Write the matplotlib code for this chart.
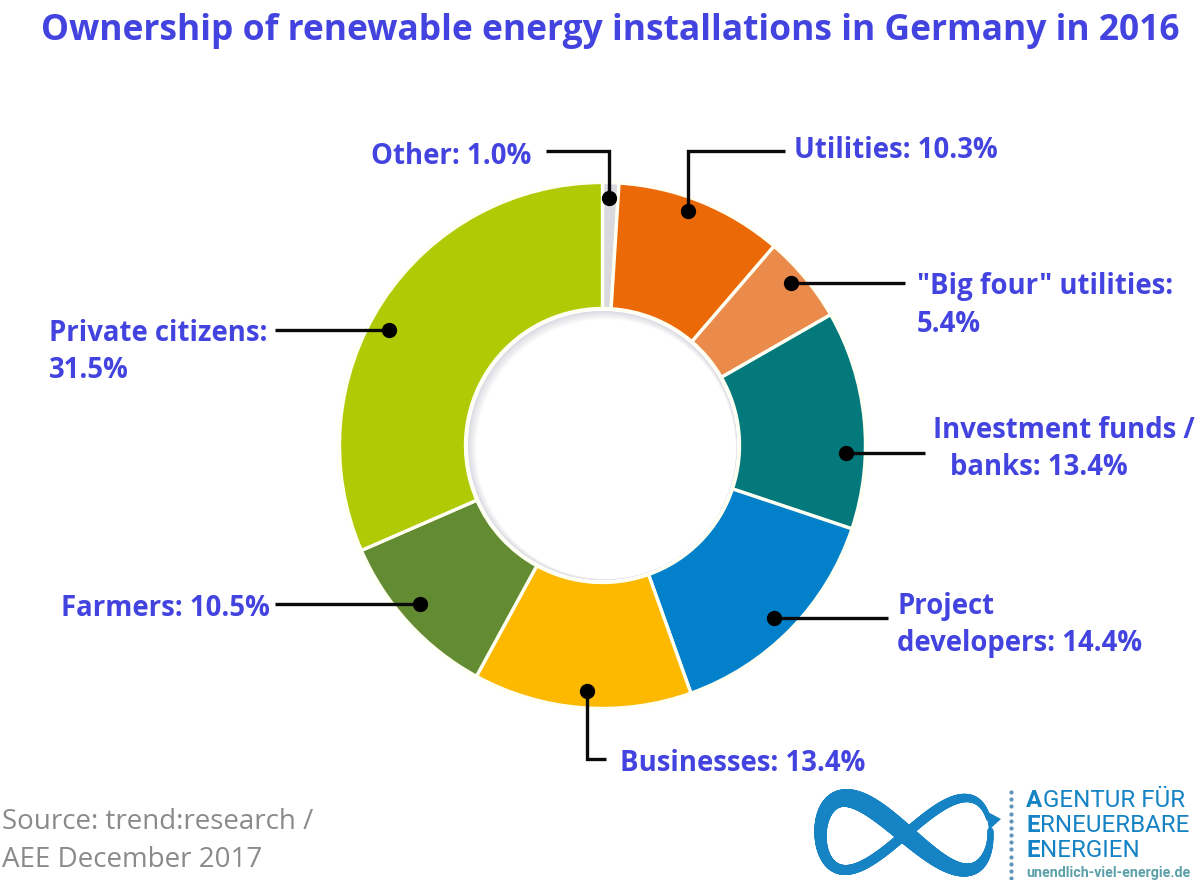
# Ownership of renewable energy installations, donut chart with leader lines
import numpy as np
import matplotlib
matplotlib.use('Agg')
import matplotlib.pyplot as plt
from matplotlib.patches import Circle, Polygon
from matplotlib.collections import LineCollection

W, H = 1200, 880

# --- data, clockwise from the top ---
categories = ['Other', 'Utilities', '"Big four" utilities', 'Investment funds / banks',
              'Project developers', 'Businesses', 'Farmers', 'Private citizens']
shares = [1.0, 10.3, 5.4, 13.4, 14.4, 13.4, 10.5, 31.5]
colors = ['#d9d9de', '#ec6907', '#ea8b4b', '#04797c', '#0281ca', '#fcb900', '#638c32', '#b0cb05']

# each text line with its left edge and vertical centre in image pixels
label_lines = [
    ('Other: 1.0%', 371, 156),
    ('Utilities: 10.3%', 794, 150),
    ('"Big four" utilities:', 917, 286),
    ('5.4%', 917, 324),
    ('Investment funds /', 933, 430),
    ('banks: 13.4%', 950, 467),
    ('Project', 897, 606),
    ('developers: 14.4%', 897, 643),
    ('Businesses: 13.4%', 620, 763),
    ('Farmers: 10.5%', 61, 608),
    ('Private citizens:', 49, 333),
    ('31.5%', 49, 370),
]

# leader lines in image pixels, first point is the dot on the ring
leaders = [
    [(609, 198), (609, 151), (546, 151)],
    [(688, 211), (688, 151), (785, 151)],
    [(791, 283), (905, 283)],
    [(846, 453), (925, 453)],
    [(774, 618), (888, 618)],
    [(587, 691), (587, 759), (606, 759)],
    [(420, 604), (275, 604)],
    [(389, 330), (275, 330)],
]

BLUE_TEXT = '#4343e0'
LOGO_BLUE = '#1583c4'


def fy(y):
    return H - y


fig = plt.figure(figsize=(12, 8.8), dpi=100, facecolor='white')
ax = fig.add_axes([0, 0, 1, 1])

# --- donut ---
cx, cy, r_out, r_in = 602.5, fy(445.5), 263, 137
ax.pie(shares, colors=colors, startangle=90, counterclock=False, center=(cx, cy),
       radius=r_out, frame=True,
       wedgeprops=dict(width=r_out - r_in, edgecolor='#fffff4', linewidth=2.4))
ax.set_xlim(0, W)
ax.set_ylim(0, H)
ax.set_aspect('auto')
ax.axis('off')

# soft shadow inside the hole, heavier on the upper left
ax.add_patch(Circle((cx, cy), r_in, fc='white', ec='#fffff0', lw=1.5, zorder=3))
steps = 30
for i in range(steps):
    f = i / (steps - 1)
    grey = np.array([0.86, 0.86, 0.89]) * (1 - f) + f
    ax.add_patch(Circle((cx + 3.5 * f, cy - 3.5 * f), 134.5 - 5 * f, fc=tuple(grey), ec='none', zorder=4))

# --- leaders ---
for pts in leaders:
    xs = [p[0] for p in pts]
    ys = [fy(p[1]) for p in pts]
    ax.plot(xs, ys, color='#0a0a0a', lw=2.4, solid_capstyle='butt', solid_joinstyle='miter', zorder=6)
    ax.plot(xs[0], ys[0], 'o', color='black', ms=10, zorder=7)

# --- labels ---
label_font = 'Open Sans'
for txt, x, y in label_lines:
    ax.text(x, fy(y), txt, color=BLUE_TEXT, fontsize=19.8, fontweight='bold', family=label_font,
            ha='left', va='center', zorder=8)

ax.text(41, fy(31), 'Ownership of renewable energy installations in Germany in 2016',
        color=BLUE_TEXT, fontsize=25.5, fontweight='bold', family=label_font, ha='left', va='center')
ax.text(2, fy(822), 'Source: trend:research /', color='#8a8a8a', fontsize=20, family=label_font,
        ha='left', va='center')
ax.text(2, fy(860), 'AEE December 2017', color='#8a8a8a', fontsize=20, family=label_font,
        ha='left', va='center')

# --- logo: infinity band with changing width ---
t = np.linspace(0.22, 2 * np.pi + 0.05, 500)
lx = 905.5 + 85 * np.cos(t)
ly = 834 - 36 * np.sin(2 * t)
pts = np.column_stack([lx, [fy(v) for v in ly]])
segs = np.stack([pts[:-1], pts[1:]], axis=1)
tm = t[:-1]
band = 7 + 7 * np.exp(-((tm - 4.4) / 1.1) ** 2) - 3.5 * np.exp(-((tm - 0.2) / 0.5) ** 2) - 3 * np.exp(-((tm - 6.3) / 0.5) ** 2)
ax.add_collection(LineCollection(segs, linewidths=band, colors=LOGO_BLUE, capstyle='round', zorder=5))
ax.add_patch(Polygon([(986, fy(811)), (1001, fy(819)), (989, fy(830))], fc=LOGO_BLUE, ec='none', zorder=6))

ax.plot([1011] * 13, [fy(v) for v in np.linspace(792, 878, 13)], ls='none', marker='o', ms=2,
        color='#5f93b8')

logo_lines = [('A', 'GENTUR FÜR', 800), ('E', 'RNEUERBARE', 825), ('E', 'NERGIEN', 850)]
for first, rest, y in logo_lines:
    t0 = ax.text(1026, fy(y), first, color=LOGO_BLUE, fontsize=17.4, fontweight='bold',
                 family='Roboto', ha='left', va='center')
    fig.canvas.draw()
    bb = t0.get_window_extent()
    ax.text(bb.x1 + 0.5, fy(y), rest, color=LOGO_BLUE, fontsize=17.4, family='Roboto',
            ha='left', va='center')
ax.text(1026, fy(873), 'unendlich-viel-energie.de', color='#5aa0a8', fontsize=10.2, fontweight='bold',
        family='Roboto', ha='left', va='center')

fig.savefig('out.png', dpi=100, facecolor='white')
